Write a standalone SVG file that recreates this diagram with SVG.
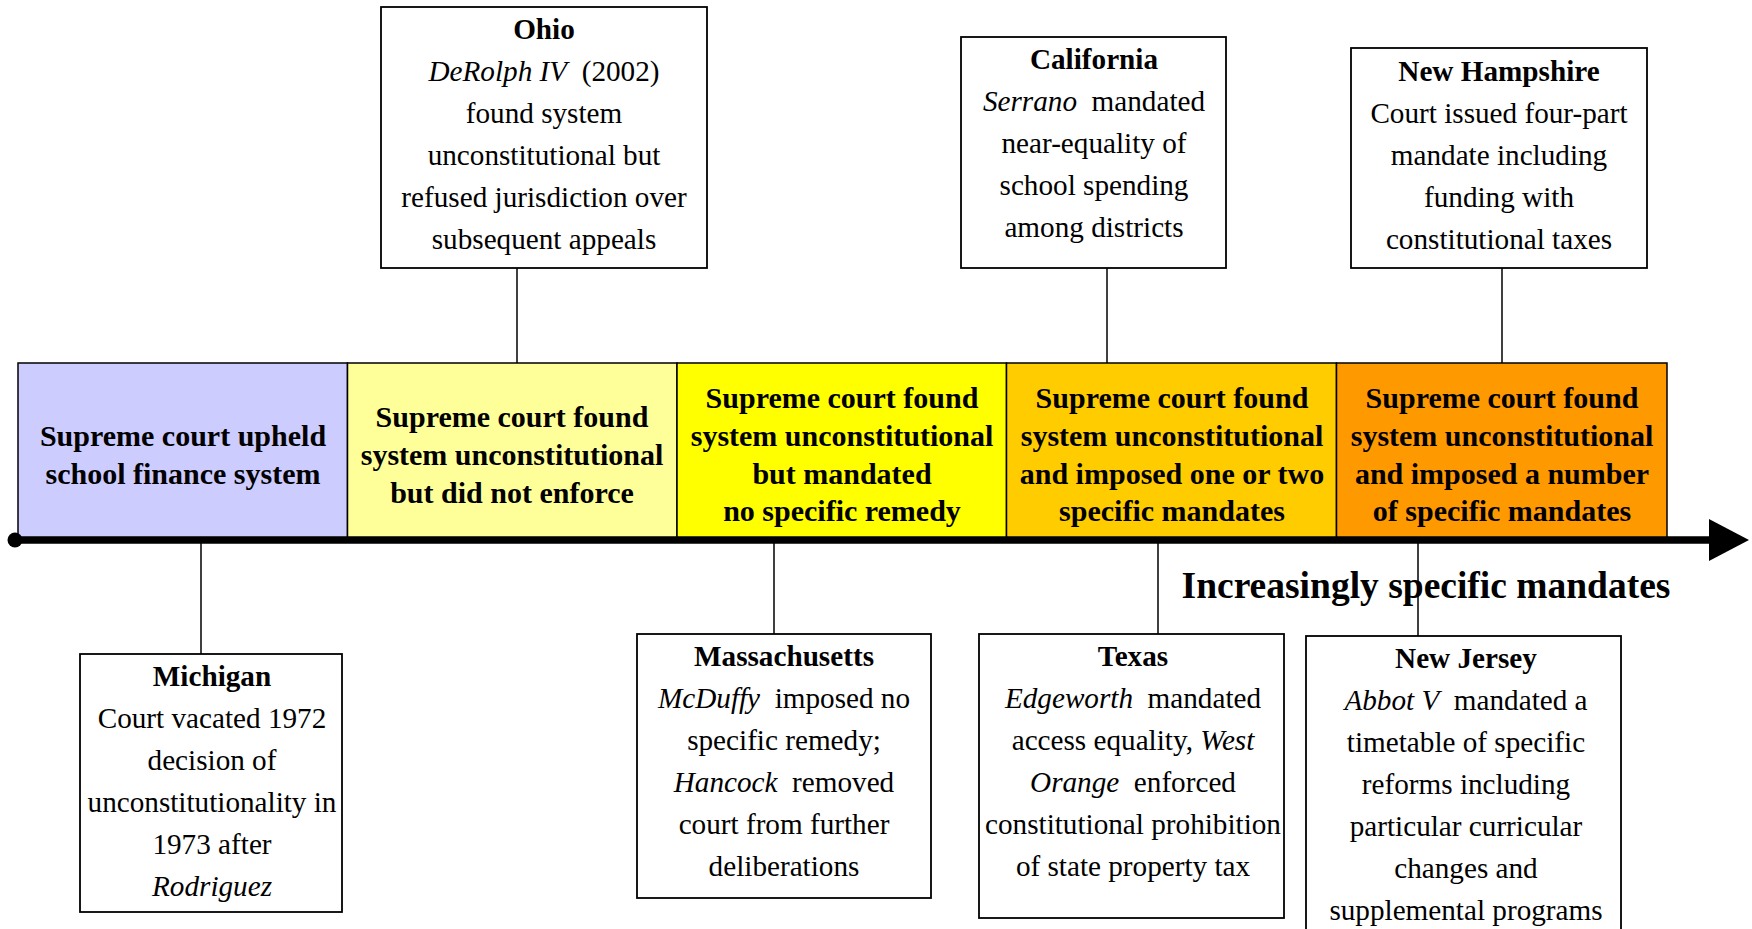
<svg xmlns="http://www.w3.org/2000/svg" width="1752" height="929" viewBox="0 0 1752 929">
<style>
.band{stroke:#000;stroke-width:1.5}
.bt{font-family:"Liberation Serif","Times New Roman",serif;font-weight:bold;font-size:30px;text-anchor:middle;fill:#000}
.box{fill:#fff;stroke:#000;stroke-width:1.8}
.ct{font-family:"Liberation Serif","Times New Roman",serif;font-size:29.2px;text-anchor:middle;fill:#000;white-space:pre}
.ct .h{font-weight:bold}
.i{font-style:italic}
.conn line{stroke:#000;stroke-width:1.5}
</style>
<rect width="1752" height="929" fill="#fff"/>
<g class="conn">
<line x1="517" y1="268" x2="517" y2="363"/>
<line x1="1107" y1="268" x2="1107" y2="363"/>
<line x1="1502" y1="268" x2="1502" y2="363"/>
<line x1="201" y1="540" x2="201" y2="654"/>
<line x1="774" y1="540" x2="774" y2="634"/>
<line x1="1158" y1="540" x2="1158" y2="634"/>
</g>
<g id="band1"><rect class="band" x="18" y="363" width="329.5" height="175" fill="#CCCCFF"/>
<text class="bt"><tspan x="183" y="446">Supreme court upheld</tspan><tspan x="183" y="484">school finance system</tspan></text></g>
<g id="band2"><rect class="band" x="347.5" y="363" width="329.5" height="175" fill="#FFFF99"/>
<text class="bt"><tspan x="512" y="427">Supreme court found</tspan><tspan x="512" y="465">system unconstitutional</tspan><tspan x="512" y="503">but did not enforce</tspan></text></g>
<g id="band3"><rect class="band" x="677" y="363" width="329.5" height="175" fill="#FFFF00"/>
<text class="bt"><tspan x="842" y="408">Supreme court found</tspan><tspan x="842" y="446">system unconstitutional</tspan><tspan x="842" y="484">but mandated</tspan><tspan x="842" y="521">no specific remedy</tspan></text></g>
<g id="band4"><rect class="band" x="1006.5" y="363" width="330" height="175" fill="#FFCC00"/>
<text class="bt"><tspan x="1172" y="408">Supreme court found</tspan><tspan x="1172" y="446">system unconstitutional</tspan><tspan x="1172" y="484">and imposed one or two</tspan><tspan x="1172" y="521">specific mandates</tspan></text></g>
<g id="band5"><rect class="band" x="1336.5" y="363" width="330.5" height="175" fill="#FF9900"/>
<text class="bt"><tspan x="1502" y="408">Supreme court found</tspan><tspan x="1502" y="446">system unconstitutional</tspan><tspan x="1502" y="484">and imposed a number</tspan><tspan x="1502" y="521">of specific mandates</tspan></text></g>
<g id="timeline">
<line x1="15" y1="540" x2="1712" y2="540" stroke="#000" stroke-width="7.5"/>
<circle cx="15" cy="540" r="7.5" fill="#000"/>
<polygon points="1709,519 1749,540 1709,561" fill="#000"/>
<text x="1426" y="598" font-family="Liberation Serif, Times New Roman, serif" font-weight="bold" font-size="37.5" text-anchor="middle">Increasingly specific mandates</text>
</g>
<g class="conn"><line x1="1418" y1="540" x2="1418" y2="636"/></g>
<g id="ohio"><rect class="box" x="381" y="7" width="326" height="261"/>
<text class="ct"><tspan class="h" x="544" y="39">Ohio</tspan><tspan x="544" y="81"><tspan class="i">DeRolph IV</tspan>  (2002)</tspan><tspan x="544" y="123">found system</tspan><tspan x="544" y="165">unconstitutional but</tspan><tspan x="544" y="207">refused jurisdiction over</tspan><tspan x="544" y="249">subsequent appeals</tspan></text></g>
<g id="california"><rect class="box" x="961" y="37" width="265" height="231"/>
<text class="ct"><tspan class="h" x="1094" y="69">California</tspan><tspan x="1094" y="111"><tspan class="i">Serrano</tspan>  mandated</tspan><tspan x="1094" y="153">near-equality of</tspan><tspan x="1094" y="195">school spending</tspan><tspan x="1094" y="237">among districts</tspan></text></g>
<g id="newhampshire"><rect class="box" x="1351" y="48" width="296" height="220"/>
<text class="ct"><tspan class="h" x="1499" y="81">New Hampshire</tspan><tspan x="1499" y="123">Court issued four-part</tspan><tspan x="1499" y="165">mandate including</tspan><tspan x="1499" y="207">funding with</tspan><tspan x="1499" y="249">constitutional taxes</tspan></text></g>
<g id="michigan"><rect class="box" x="80" y="654" width="262" height="258"/>
<text class="ct"><tspan class="h" x="212" y="686">Michigan</tspan><tspan x="212" y="728">Court vacated 1972</tspan><tspan x="212" y="770">decision of</tspan><tspan x="212" y="812">unconstitutionality in</tspan><tspan x="212" y="854">1973 after</tspan><tspan class="i" x="212" y="896">Rodriguez</tspan></text></g>
<g id="massachusetts"><rect class="box" x="637" y="634" width="294" height="264"/>
<text class="ct"><tspan class="h" x="784" y="666">Massachusetts</tspan><tspan x="784" y="708"><tspan class="i">McDuffy</tspan>  imposed no</tspan><tspan x="784" y="750">specific remedy;</tspan><tspan x="784" y="792"><tspan class="i">Hancock</tspan>  removed</tspan><tspan x="784" y="834">court from further</tspan><tspan x="784" y="876">deliberations</tspan></text></g>
<g id="texas"><rect class="box" x="979" y="634" width="305" height="284"/>
<text class="ct"><tspan class="h" x="1133" y="666">Texas</tspan><tspan x="1133" y="708"><tspan class="i">Edgeworth</tspan>  mandated</tspan><tspan x="1133" y="750">access equality, <tspan class="i">West</tspan></tspan><tspan x="1133" y="792"><tspan class="i">Orange</tspan>  enforced</tspan><tspan x="1133" y="834">constitutional prohibition</tspan><tspan x="1133" y="876">of state property tax</tspan></text></g>
<g id="newjersey"><rect class="box" x="1306" y="636" width="315" height="310"/>
<text class="ct"><tspan class="h" x="1466" y="668">New Jersey</tspan><tspan x="1466" y="710"><tspan class="i">Abbot V</tspan>  mandated a</tspan><tspan x="1466" y="752">timetable of specific</tspan><tspan x="1466" y="794">reforms including</tspan><tspan x="1466" y="836">particular curricular</tspan><tspan x="1466" y="878">changes and</tspan><tspan x="1466" y="920">supplemental programs</tspan></text></g>
</svg>
